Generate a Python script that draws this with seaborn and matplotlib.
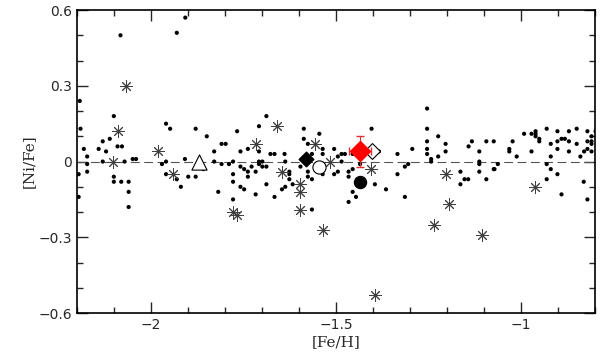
import numpy as np
import pandas as pd
import matplotlib
matplotlib.use("Agg")
import matplotlib.pyplot as plt
from matplotlib.ticker import MultipleLocator, FuncFormatter
import seaborn as sns

# field stars (small dots)
dot_feh = [-2.192, -2.10, -2.19, -1.959, -1.948, -2.111, -2.13, -2.181, -2.141, -2.121,
           -2.09, -2.078, -2.172, -2.172, -2.172, -2.13, -2.071, -2.049, -2.04, -2.10,
           -2.10, -2.08, -2.06, -2.06, -2.06, -2.195, -2.195, -1.97, -1.959, -1.959,
           -1.93, -1.919, -2.082, -1.93, -1.907,
           -1.688, -1.708, -1.879, -1.849, -1.767, -1.809, -1.798, -1.829, -1.758, -1.738,
           -1.708, -1.677, -1.666, -1.639, -1.908, -1.829, -1.809, -1.789, -1.778, -1.708,
           -1.699, -1.708, -1.699, -1.688, -1.637, -1.758, -1.748, -1.738, -1.717, -1.728,
           -1.738, -1.778, -1.778, -1.858, -1.899, -1.879, -1.818, -1.758, -1.748, -1.717,
           -1.688, -1.666, -1.646, -1.637, -1.778,
           -1.587, -1.545, -1.587, -1.576, -1.536, -1.505, -1.404, -1.565, -1.536, -1.485,
           -1.476, -1.495, -1.455, -1.384, -1.485, -1.596, -1.576, -1.576, -1.565, -1.626,
           -1.626, -1.626, -1.617, -1.536, -1.505, -1.495, -1.466, -1.455, -1.466, -1.435,
           -1.395, -1.365, -1.455, -1.446, -1.466, -1.565,
           -1.254, -1.254, -1.224, -1.254, -1.204, -1.254, -1.294, -1.254, -1.334, -1.224,
           -1.204, -1.243, -1.243, -1.305, -1.314, -1.334, -1.314, -1.142, -1.133, -1.094,
           -1.074, -1.113, -1.113, -1.113, -1.074, -1.164, -1.113, -1.153, -1.143, -1.164,
           -1.094,
           -1.023, -1.032, -1.032, -1.012, -0.992, -0.972, -0.961, -0.961, -0.961, -0.951,
           -0.951, -0.972, -0.931, -0.920, -0.920, -0.902, -0.902, -0.902, -0.891, -0.882,
           -0.871, -0.871, -0.871, -0.850, -0.850, -0.840, -0.830, -0.821, -0.821, -0.821,
           -0.810, -0.810, -0.810, -0.810, -0.799, -1.072, -1.063, -0.931, -0.920, -0.931,
           -0.902, -0.891, -0.831, -0.821, -0.792]
dot_nife = [0.24, 0.18, 0.13, 0.15, 0.13, 0.09, 0.08, 0.05, 0.05, 0.04,
            0.06, 0.06, 0.02, -0.01, -0.04, 0.0, 0.0, 0.01, 0.01, -0.06,
            -0.08, -0.08, -0.08, -0.12, -0.18, -0.05, -0.14, -0.01, 0.0, -0.05,
            -0.07, -0.10, 0.50, 0.51, 0.57,
            0.18, 0.14, 0.13, 0.10, 0.12, 0.07, 0.07, 0.04, 0.04, 0.05,
            0.04, 0.03, 0.03, 0.03, 0.01, 0.0, -0.01, -0.01, 0.0, 0.0,
            0.0, -0.01, -0.02, -0.02, 0.0, -0.02, -0.03, -0.04, -0.04, -0.02,
            -0.06, -0.05, -0.08, -0.03, -0.06, -0.06, -0.12, -0.10, -0.11, -0.13,
            -0.09, -0.14, -0.11, -0.10, -0.15,
            0.13, 0.11, 0.09, 0.07, 0.05, 0.05, 0.13, 0.03, 0.03, 0.03,
            0.03, 0.02, 0.03, 0.04, 0.0, -0.02, -0.04, -0.06, -0.07, -0.04,
            -0.05, -0.07, -0.09, -0.05, -0.05, -0.04, -0.04, -0.03, -0.06, -0.01,
            -0.09, -0.11, -0.12, -0.14, -0.16, -0.19,
            0.21, 0.13, 0.10, 0.08, 0.07, 0.05, 0.05, 0.03, 0.03, 0.02,
            0.04, 0.01, 0.0, -0.01, -0.02, -0.05, -0.14, 0.06, 0.08, 0.08,
            0.08, 0.04, 0.0, -0.01, -0.03, -0.04, -0.04, -0.07, -0.07, -0.09,
            -0.07,
            0.08, 0.05, 0.04, 0.02, 0.11, 0.11, 0.12, 0.11, 0.10, 0.09,
            0.08, 0.04, 0.13, 0.07, 0.02, 0.12, 0.08, 0.05, 0.09, 0.09,
            0.12, 0.08, 0.04, 0.13, 0.07, 0.02, 0.04, 0.12, 0.08, 0.05,
            0.10, 0.08, 0.07, 0.04, 0.12, -0.03, -0.01, -0.01, -0.03, -0.07,
            -0.05, -0.13, -0.08, -0.15, -0.04]

# asterisks
ast_feh = [-2.068, -2.09, -2.102, -1.98, -1.941, -1.659, -1.717, -1.646, -1.778, -1.767,
           -1.556, -1.516, -1.406, -1.596, -1.596, -1.596, -1.536, -1.204, -1.195, -1.234,
           -1.395, -1.105, -0.963]
ast_nife = [0.30, 0.12, 0.0, 0.04, -0.05, 0.14, 0.07, -0.04, -0.20, -0.21,
            0.07, 0.0, -0.03, -0.09, -0.12, -0.19, -0.27, -0.05, -0.17, -0.25,
            -0.53, -0.29, -0.10]

# individual points
tri_feh, tri_nife = [-1.87], [0.0]
bdia_feh, bdia_nife = [-1.58], [0.01]
ocirc_feh, ocirc_nife = [-1.546], [-0.02]
bcirc_feh, bcirc_nife = [-1.435], [-0.08]
odia_feh, odia_nife = [-1.404], [0.04]
red_feh, red_nife = [-1.435], [0.04]
red_xerr, red_yerr = [0.03], [0.06]

dots = pd.DataFrame({"feh": dot_feh, "nife": dot_nife})
ast = pd.DataFrame({"feh": ast_feh, "nife": ast_nife})

sns.set_style("ticks")
plt.rcParams["font.family"] = ["DejaVu Sans"]

fig = plt.figure(figsize=(6.0, 3.59), dpi=100)
ax = fig.add_axes([0.128, 0.128, 0.864, 0.844])

ax.axhline(0, color="#555555", lw=0.8, ls=(0, (8, 4)), zorder=1)

sns.scatterplot(data=dots, x="feh", y="nife", ax=ax, color="black", s=9,
                marker="o", edgecolor="none", zorder=2)
sns.scatterplot(data=ast, x="feh", y="nife", ax=ax, color="#404040", s=70,
                marker=(8, 2, 0), linewidth=0.7, zorder=3)

ax.scatter(tri_feh, tri_nife, marker="^", s=120, facecolor="white",
           edgecolor="black", lw=0.8, zorder=4)
ax.scatter(bdia_feh, bdia_nife, marker="D", s=55, color="black", zorder=4)
ax.scatter(ocirc_feh, ocirc_nife, marker="o", s=90, facecolor="white",
           edgecolor="black", lw=0.8, zorder=4)
ax.scatter(bcirc_feh, bcirc_nife, marker="o", s=75, color="black", zorder=4)
ax.scatter(odia_feh, odia_nife, marker="D", s=65, facecolor="white",
           edgecolor="black", lw=0.8, zorder=4)
ax.errorbar(red_feh, red_nife, xerr=red_xerr, yerr=red_yerr, fmt="D", ms=10,
            color="red", ecolor="#e03030", elinewidth=0.8, capsize=3, zorder=5)

ax.set_xlim(-2.2, -0.8)
ax.set_ylim(-0.6, 0.6)
ax.xaxis.set_major_locator(MultipleLocator(0.5))
ax.xaxis.set_minor_locator(MultipleLocator(0.1))
ax.yaxis.set_major_locator(MultipleLocator(0.3))
ax.yaxis.set_minor_locator(MultipleLocator(0.1))
ax.tick_params(which="both", direction="in", top=True, right=True, labelsize=10, width=1)
ax.tick_params(which="major", length=8)
ax.tick_params(which="minor", length=4)
fmt = FuncFormatter(lambda v, p: "0" if abs(v) < 1e-9 else f"{v:g}".replace("-", "\u2212"))
ax.xaxis.set_major_formatter(fmt)
ax.yaxis.set_major_formatter(fmt)
for s in ax.spines.values():
    s.set_linewidth(1.2)
    s.set_color("black")

ax.set_xlabel("[Fe/H]", fontsize=11, family="DejaVu Serif", labelpad=2)
ax.set_ylabel("[Ni/Fe]", fontsize=11, family="DejaVu Serif", labelpad=2)

fig.savefig("out.png", dpi=100)
